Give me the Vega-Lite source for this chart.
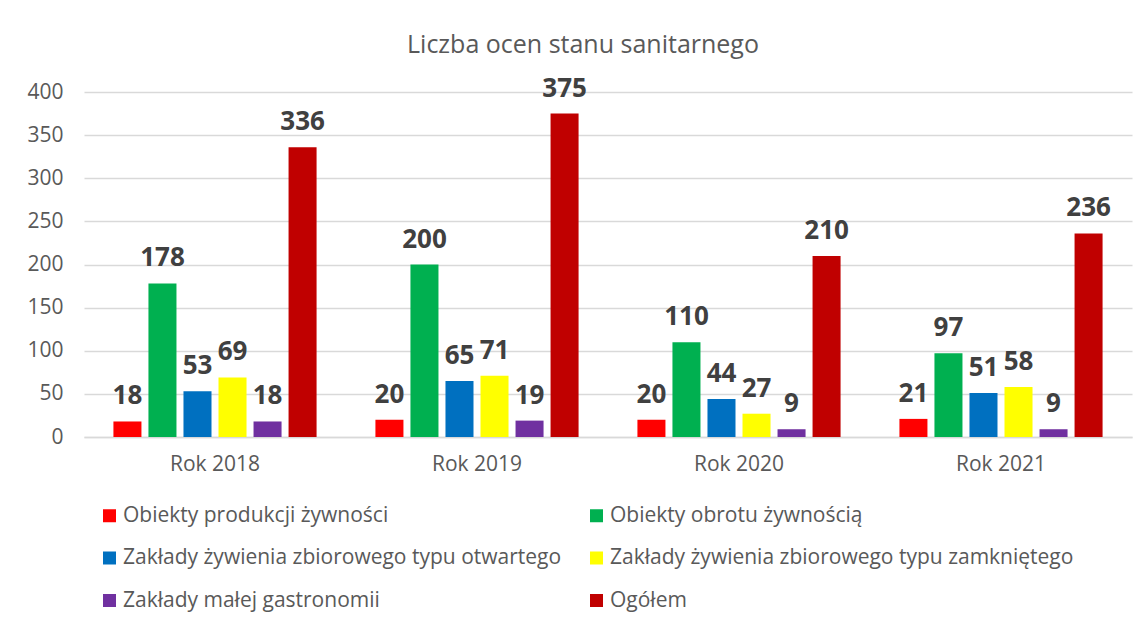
{
  "$schema": "https://vega.github.io/schema/vega-lite/v6.json",
  "width": 1048,
  "height": 345,
  "autosize": {"type": "none"},
  "padding": {"left": 84, "top": 92, "right": 15, "bottom": 183},
  "background": "white",
  "title": {"text": "Liczba ocen stanu sanitarnego", "anchor": "middle", "dx": -25, "offset": 18, "fontSize": 25, "fontWeight": "normal", "color": "#595959", "font": "Open Sans"},
  "data": {"values": [
    {"rok": "Rok 2018", "seria": "Obiekty produkcji żywności", "wartosc": 18},
    {"rok": "Rok 2018", "seria": "Obiekty obrotu żywnością", "wartosc": 178},
    {"rok": "Rok 2018", "seria": "Zakłady żywienia zbiorowego typu otwartego", "wartosc": 53},
    {"rok": "Rok 2018", "seria": "Zakłady żywienia zbiorowego typu zamkniętego", "wartosc": 69},
    {"rok": "Rok 2018", "seria": "Zakłady małej gastronomii", "wartosc": 18},
    {"rok": "Rok 2018", "seria": "Ogółem", "wartosc": 336},
    {"rok": "Rok 2019", "seria": "Obiekty produkcji żywności", "wartosc": 20},
    {"rok": "Rok 2019", "seria": "Obiekty obrotu żywnością", "wartosc": 200},
    {"rok": "Rok 2019", "seria": "Zakłady żywienia zbiorowego typu otwartego", "wartosc": 65},
    {"rok": "Rok 2019", "seria": "Zakłady żywienia zbiorowego typu zamkniętego", "wartosc": 71},
    {"rok": "Rok 2019", "seria": "Zakłady małej gastronomii", "wartosc": 19},
    {"rok": "Rok 2019", "seria": "Ogółem", "wartosc": 375},
    {"rok": "Rok 2020", "seria": "Obiekty produkcji żywności", "wartosc": 20},
    {"rok": "Rok 2020", "seria": "Obiekty obrotu żywnością", "wartosc": 110},
    {"rok": "Rok 2020", "seria": "Zakłady żywienia zbiorowego typu otwartego", "wartosc": 44},
    {"rok": "Rok 2020", "seria": "Zakłady żywienia zbiorowego typu zamkniętego", "wartosc": 27},
    {"rok": "Rok 2020", "seria": "Zakłady małej gastronomii", "wartosc": 9},
    {"rok": "Rok 2020", "seria": "Ogółem", "wartosc": 210},
    {"rok": "Rok 2021", "seria": "Obiekty produkcji żywności", "wartosc": 21},
    {"rok": "Rok 2021", "seria": "Obiekty obrotu żywnością", "wartosc": 97},
    {"rok": "Rok 2021", "seria": "Zakłady żywienia zbiorowego typu otwartego", "wartosc": 51},
    {"rok": "Rok 2021", "seria": "Zakłady żywienia zbiorowego typu zamkniętego", "wartosc": 58},
    {"rok": "Rok 2021", "seria": "Zakłady małej gastronomii", "wartosc": 9},
    {"rok": "Rok 2021", "seria": "Ogółem", "wartosc": 236}
  ]},
  "encoding": {
    "x": {"field": "rok", "type": "nominal", "sort": null, "scale": {"paddingInner": 0, "paddingOuter": 0},
      "axis": {"title": null, "labelAngle": 0, "ticks": false, "domainColor": "#d9d9d9", "domainWidth": 1.5, "labelFont": "Open Sans", "labelFontSize": 21, "labelColor": "#595959", "labelPadding": 16}},
    "xOffset": {"field": "seria", "type": "nominal", "sort": ["Obiekty produkcji żywności", "Obiekty obrotu żywnością", "Zakłady żywienia zbiorowego typu otwartego", "Zakłady żywienia zbiorowego typu zamkniętego", "Zakłady małej gastronomii", "Ogółem"],
      "scale": {"paddingInner": 0.2, "paddingOuter": 0.84}},
    "y": {"field": "wartosc", "type": "quantitative", "scale": {"domain": [0, 400]},
      "axis": {"title": null, "values": [0, 50, 100, 150, 200, 250, 300, 350, 400], "domain": false, "ticks": false, "gridColor": "#d9d9d9", "gridWidth": 1.5, "labelFont": "Open Sans", "labelFontSize": 21, "labelColor": "#595959", "labelPadding": 21}}
  },
  "layer": [
    {
      "mark": {"type": "bar"},
      "encoding": {
        "color": {"field": "seria", "type": "nominal",
          "scale": {"domain": ["Obiekty produkcji żywności", "Obiekty obrotu żywnością", "Zakłady żywienia zbiorowego typu otwartego", "Zakłady żywienia zbiorowego typu zamkniętego", "Zakłady małej gastronomii", "Ogółem"],
                    "range": ["#ff0000", "#00b050", "#0070c0", "#ffff00", "#7030a0", "#c00000"]},
          "legend": {"title": null, "orient": "none", "direction": "horizontal", "legendX": 15, "legendY": 413, "columns": 2, "columnPadding": 24, "rowPadding": 20.5,
            "symbolType": "square", "symbolSize": 169, "symbolStrokeWidth": 0, "labelFont": "Open Sans", "labelFontSize": 21, "labelColor": "#595959", "labelOffset": 3, "labelLimit": 600}}
      }
    },
    {
      "mark": {"type": "text", "baseline": "alphabetic", "dy": -17, "font": "Open Sans", "fontSize": 26, "fontWeight": "bold", "color": "#404040"},
      "encoding": {"text": {"field": "wartosc", "type": "quantitative"}}
    }
  ],
  "config": {"view": {"stroke": null}}
}
